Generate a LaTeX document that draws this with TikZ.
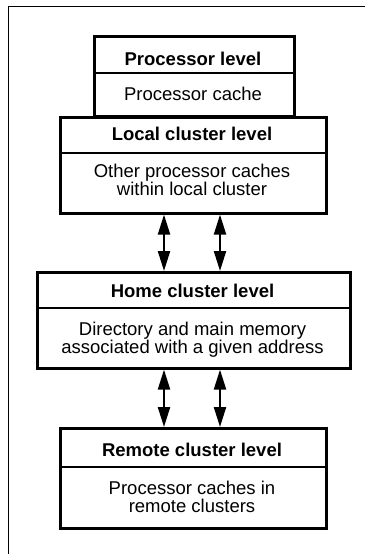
\documentclass[tikz,border=0pt]{standalone}
\usepackage{fontspec}
\setmainfont{Liberation Sans}
\usetikzlibrary{arrows.meta}
\begin{document}
\begin{tikzpicture}[x=1pt,y=-1pt,
  frame/.style={line width=1.3pt},
  levelbox/.style={draw, line width=2.6pt, fill=white, inner sep=0pt, anchor=north west},
  divider/.style={line width=1.3pt},
  title/.style={anchor=base, inner sep=0pt, font=\fontsize{18.5}{18}\selectfont\bfseries},
  body/.style={anchor=base, inner sep=0pt, align=center, font=\fontsize{18.5}{18}\selectfont},
  link/.style={line width=2.2pt, {Triangle[width=12pt,length=20pt]}-{Triangle[width=12pt,length=20pt]}}
]
\useasboundingbox (0,0) rectangle (365,554);
% outer frame (top and left edges only)
\coordinate (ftl) at (8.5,6.5);
\coordinate (ftr) at (365,6.5);
\coordinate (fbl) at (8.5,554);
\draw[frame] (ftr) -- (ftl) -- (fbl);

% boxes
\node[levelbox, minimum width=200pt, minimum height=80pt] (proc) at (93,35) {};
\node[levelbox, minimum width=266pt, minimum height=96pt] (local) at (59,116) {};
\node[levelbox, minimum width=313pt, minimum height=96pt] (home) at (36,271) {};
\node[levelbox, minimum width=266pt, minimum height=100pt] (remote) at (59,427) {};

% dividers
\draw[divider] (proc.west |- 0,73) -- (proc.east |- 0,73);
\draw[divider] (local.west |- 0,153) -- (local.east |- 0,153);
\draw[divider] (home.west |- 0,308) -- (home.east |- 0,308);
\draw[divider] (remote.west |- 0,467) -- (remote.east |- 0,467);

% texts (multi-line nodes are placed by the baseline of their last line)
\node[title] (proct) at (193,65) {Processor level};
\node[body] (procb) at (193,100) {Processor cache};
\node[title] (localt) at (192,140) {Local cluster level};
\node[body] (localb) at (192,195) {Other processor caches\\within local cluster};
\node[title] (homet) at (192.5,297) {Home cluster level};
\node[body] (homeb) at (192.5,353) {Directory and main memory\\associated with a given address};
\node[title] (remotet) at (192,456) {Remote cluster level};
\node[body] (remoteb) at (192,512) {Processor caches in\\remote clusters};

% links
\draw[link] (local.south -| 164,0) -- (home.north -| 164,0);
\draw[link] (local.south -| 220,0) -- (home.north -| 220,0);
\draw[link] (home.south -| 164,0) -- (remote.north -| 164,0);
\draw[link] (home.south -| 220,0) -- (remote.north -| 220,0);
\end{tikzpicture}
\end{document}
